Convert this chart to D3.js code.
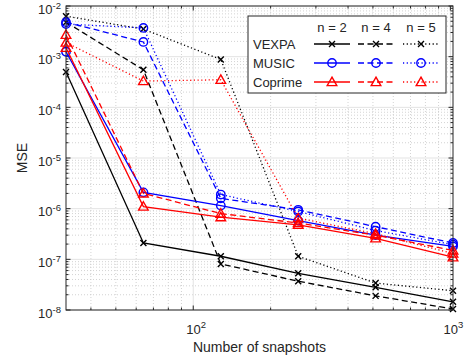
<!DOCTYPE html>
<html>
<head>
<meta charset="utf-8">
<script src="https://cdn.jsdelivr.net/npm/d3@7"></script>
<style>
body { margin: 0; background: #fff; }
text { font-family: "Liberation Sans", Arial, sans-serif; fill: #262626; }
</style>
</head>
<body>
<script>
// snapshots on x, MSE on y
const snapshots = [32, 64, 128, 256, 512, 1024];
const vexpa_n2 = [5e-4, 2.1e-7, 1.15e-7, 5.3e-8, 2.8e-8, 1.45e-8];
const vexpa_n4 = [4.8e-3, 5.5e-4, 8.1e-8, 3.7e-8, 1.9e-8, 1.05e-8];
const vexpa_n5 = [6.3e-3, 3.5e-3, 8.8e-4, 1.15e-7, 3.4e-8, 2.4e-8];
const music_n2 = [1.25e-3, 2.1e-6, 1.15e-6, 5.8e-7, 3.0e-7, 1.8e-7];
const music_n4 = [4.8e-3, 1.95e-3, 1.6e-6, 9.5e-7, 4.4e-7, 2.1e-7];
const music_n5 = [4.4e-3, 3.7e-3, 1.9e-6, 8.8e-7, 3.7e-7, 1.95e-7];
const coprime_n2 = [1.5e-3, 1.1e-6, 6.8e-7, 4.8e-7, 2.6e-7, 1.1e-7];
const coprime_n4 = [2.7e-3, 2.0e-6, 8.0e-7, 5.2e-7, 3.0e-7, 1.5e-7];
const coprime_n5 = [1.9e-3, 3.3e-4, 3.5e-4, 6.5e-7, 3.2e-7, 1.3e-7];
const methods = ["VEXPA", "MUSIC", "Coprime"];
const orders = ["n = 2", "n = 4", "n = 5"];
const yTickExp = [-8, -7, -6, -5, -4, -3, -2];
const xTickExp = [2, 3];

const width = 469, height = 359;
const m = {left: 66, right: 16, top: 6, bottom: 49};
const iw = width - m.left - m.right, ih = height - m.top - m.bottom;

const svg = d3.select("body").append("svg")
  .attr("width", width).attr("height", height);
const g = svg.append("g").attr("transform", `translate(${m.left},${m.top})`);

const x = d3.scaleLog().domain([32, 1024]).range([0, iw]);
const y = d3.scaleLog().domain([1e-8, 1e-2]).range([ih, 0]);

// grid
const xMinor = [], yMinor = [];
for (let d = 10; d <= 1000; d *= 10)
  for (let k = 2; k <= 9; k++) if (d * k > 32 && d * k < 1024) xMinor.push(d * k);
for (let e = -8; e < -2; e++)
  for (let k = 2; k <= 9; k++) yMinor.push(k * Math.pow(10, e));

const grid = g.append("g");
grid.selectAll(".xm").data(xMinor).enter().append("line")
  .attr("x1", d => x(d)).attr("x2", d => x(d)).attr("y1", 0).attr("y2", ih)
  .attr("stroke", "#c8c8c8").attr("stroke-width", 0.8).attr("stroke-dasharray", "1,2");
grid.selectAll(".ym").data(yMinor).enter().append("line")
  .attr("x1", 0).attr("x2", iw).attr("y1", d => y(d)).attr("y2", d => y(d))
  .attr("stroke", "#c8c8c8").attr("stroke-width", 0.8).attr("stroke-dasharray", "1,2");
grid.selectAll(".xM").data(xTickExp.map(e => Math.pow(10, e))).enter().append("line")
  .attr("x1", d => x(d)).attr("x2", d => x(d)).attr("y1", 0).attr("y2", ih)
  .attr("stroke", "#e3e3e3").attr("stroke-width", 1);
grid.selectAll(".yM").data(yTickExp.map(e => Math.pow(10, e))).enter().append("line")
  .attr("x1", 0).attr("x2", iw).attr("y1", d => y(d)).attr("y2", d => y(d))
  .attr("stroke", "#e3e3e3").attr("stroke-width", 1);

// inner ticks on all four sides
const tk = g.append("g").attr("stroke", "#262626").attr("stroke-width", 1);
xMinor.forEach(d => {
  tk.append("line").attr("x1", x(d)).attr("x2", x(d)).attr("y1", ih).attr("y2", ih - 2.5);
  tk.append("line").attr("x1", x(d)).attr("x2", x(d)).attr("y1", 0).attr("y2", 2.5);
});
xTickExp.forEach(e => {
  const v = Math.pow(10, e);
  tk.append("line").attr("x1", x(v)).attr("x2", x(v)).attr("y1", ih).attr("y2", ih - 4.5);
  tk.append("line").attr("x1", x(v)).attr("x2", x(v)).attr("y1", 0).attr("y2", 4.5);
});
yMinor.forEach(d => {
  tk.append("line").attr("x1", 0).attr("x2", 2.5).attr("y1", y(d)).attr("y2", y(d));
  tk.append("line").attr("x1", iw).attr("x2", iw - 2.5).attr("y1", y(d)).attr("y2", y(d));
});
yTickExp.forEach(e => {
  const v = Math.pow(10, e);
  tk.append("line").attr("x1", 0).attr("x2", 4.5).attr("y1", y(v)).attr("y2", y(v));
  tk.append("line").attr("x1", iw).attr("x2", iw - 4.5).attr("y1", y(v)).attr("y2", y(v));
});

// tick labels
yTickExp.forEach(e => {
  const t = g.append("text").attr("x", -5).attr("y", y(Math.pow(10, e)) + 7.5)
    .attr("text-anchor", "end").attr("font-size", 13);
  t.append("tspan").text("10");
  t.append("tspan").attr("dy", -5).attr("font-size", 9.5).text(e);
});
xTickExp.forEach(e => {
  const t = g.append("text").attr("x", x(Math.pow(10, e)) + 3).attr("y", ih + 24)
    .attr("text-anchor", "middle").attr("font-size", 13);
  t.append("tspan").text("10");
  t.append("tspan").attr("dy", -6).attr("font-size", 9.5).text(e);
});

svg.append("text").attr("x", m.left + iw / 2).attr("y", 352)
  .attr("text-anchor", "middle").attr("font-size", 14).text("Number of snapshots");
svg.append("text").attr("transform", `translate(27,${m.top + ih / 2}) rotate(-90)`)
  .attr("text-anchor", "middle").attr("font-size", 14).text("MSE");

// series
const colors = {VEXPA: "#000000", MUSIC: "#0000ff", Coprime: "#ff0000"};
const dashes = ["none", "6,3.5", "1.2,2.5"];
const series = [
  ["VEXPA", 0, vexpa_n2], ["VEXPA", 1, vexpa_n4], ["VEXPA", 2, vexpa_n5],
  ["MUSIC", 0, music_n2], ["MUSIC", 1, music_n4], ["MUSIC", 2, music_n5],
  ["Coprime", 0, coprime_n2], ["Coprime", 1, coprime_n4], ["Coprime", 2, coprime_n5]
];

function marker(sel, method, cx, cy) {
  const c = colors[method];
  if (method === "VEXPA") {
    const s = 3;
    sel.append("path").attr("d", `M${cx - s},${cy - s}L${cx + s},${cy + s}M${cx - s},${cy + s}L${cx + s},${cy - s}`)
      .attr("stroke", c).attr("stroke-width", 1.4).attr("fill", "none");
  } else if (method === "MUSIC") {
    sel.append("circle").attr("cx", cx).attr("cy", cy).attr("r", 4.2)
      .attr("stroke", c).attr("stroke-width", 1.4).attr("fill", "none");
  } else {
    const s = 4.8;
    sel.append("path").attr("d", `M${cx},${cy - s}L${cx + s},${cy + s * 0.75}L${cx - s},${cy + s * 0.75}Z`)
      .attr("stroke", c).attr("stroke-width", 1.4).attr("fill", "none");
  }
}

const line = d3.line().x((d, i) => x(snapshots[i])).y(d => y(d));
const plot = g.append("g");
series.forEach(([method, k, vals]) => {
  plot.append("path").datum(vals).attr("d", line)
    .attr("fill", "none").attr("stroke", colors[method]).attr("stroke-width", 1.3)
    .attr("stroke-dasharray", dashes[k]);
  vals.forEach((v, i) => marker(plot, method, x(snapshots[i]), y(v)));
});

// box
g.append("rect").attr("width", iw).attr("height", ih)
  .attr("fill", "none").attr("stroke", "#262626").attr("stroke-width", 1);

// legend
const lg = svg.append("g");
lg.append("rect").attr("x", 248).attr("y", 16).attr("width", 198).attr("height", 77)
  .attr("fill", "#fff").attr("stroke", "#262626").attr("stroke-width", 1);
const colX = [332, 376, 421];
orders.forEach((o, k) => {
  lg.append("text").attr("x", colX[k]).attr("y", 32).attr("text-anchor", "middle")
    .attr("font-size", 13).text(o);
});
methods.forEach((mth, r) => {
  const ry = 44 + r * 19;
  lg.append("text").attr("x", 253).attr("y", ry + 5).attr("font-size", 13).text(mth);
  colX.forEach((cx, k) => {
    lg.append("line").attr("x1", cx - 18).attr("x2", cx + 18).attr("y1", ry).attr("y2", ry)
      .attr("stroke", colors[mth]).attr("stroke-width", 1.3).attr("stroke-dasharray", dashes[k]);
    marker(lg, mth, cx, ry);
  });
});
</script>
</body>
</html>
